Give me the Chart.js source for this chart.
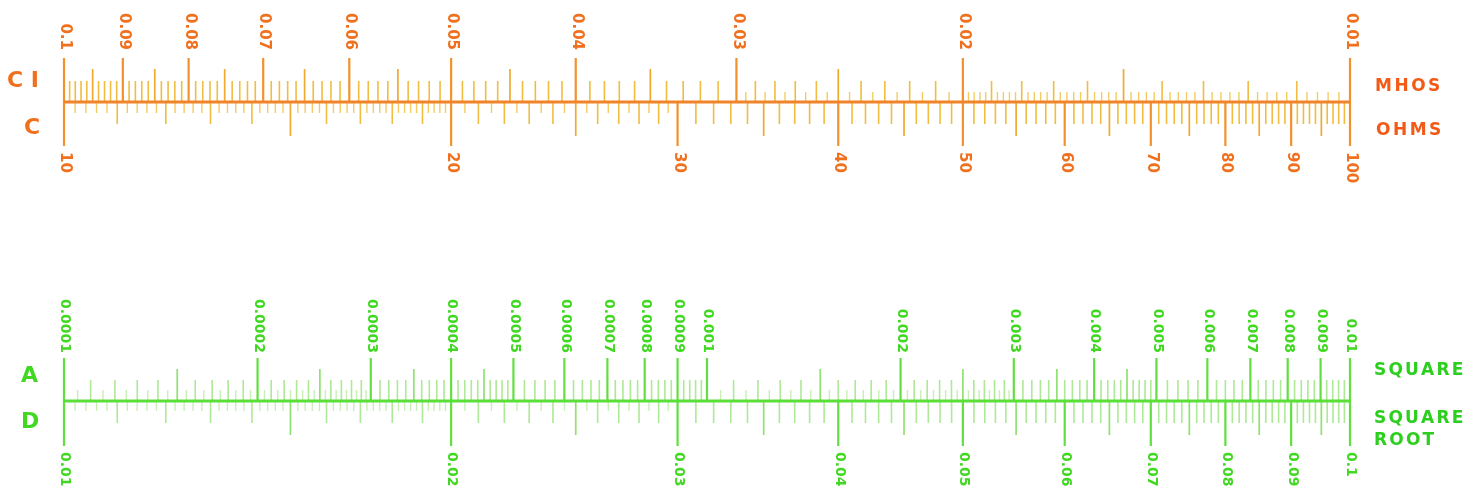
<!DOCTYPE html>
<html><head><meta charset="utf-8">
<script src="https://cdn.jsdelivr.net/npm/chart.js@4.4.1/dist/chart.umd.min.js"></script>
<style>html,body{margin:0;padding:0;background:#fff;}canvas{display:block;}</style>
</head><body>
<canvas id="c" width="1467" height="498"></canvas>
<script>
// ---------- DATA ----------
// Labelled graduations of each scale
const CI_LABELS = [0.1, 0.09, 0.08, 0.07, 0.06, 0.05, 0.04, 0.03, 0.02, 0.01];
const C_LABELS  = [10, 20, 30, 40, 50, 60, 70, 80, 90, 100];
const A_LABELS  = [0.0001, 0.0002, 0.0003, 0.0004, 0.0005, 0.0006, 0.0007, 0.0008, 0.0009,
                   0.001, 0.002, 0.003, 0.004, 0.005, 0.006, 0.007, 0.008, 0.009, 0.01];
const D_LABELS  = [0.01, 0.02, 0.03, 0.04, 0.05, 0.06, 0.07, 0.08, 0.09, 0.1];
// Graduation ranges: [from, to, short step, medium step, long step]
const CI_GRAD = [[0.03, 0.1, null, 0.001, 0.005], [0.02, 0.03, 0.0005, 0.001, 0.005], [0.01, 0.02, 0.0002, 0.001, 0.005]];
const C_GRAD  = [[10, 20, 0.2, 1, 5], [20, 30, 0.5, 1, 5], [30, 100, null, 1, 5]];
const A_GRAD  = [[0.0001, 0.0003, 0.000005, 0.00001, 0.00005], [0.0003, 0.0005, null, 0.00001, 0.00005],
                 [0.0005, 0.001, null, 0.00002, null], [0.001, 0.003, 0.00005, 0.0001, 0.0005],
                 [0.003, 0.005, null, 0.0001, 0.0005], [0.005, 0.01, null, 0.0002, null]];
const D_GRAD  = [[0.01, 0.02, 0.0002, 0.001, 0.005], [0.02, 0.03, 0.0005, 0.001, 0.005], [0.03, 0.1, null, 0.001, 0.005]];
// Side captions
const TOP_LEFT = ['C I', 'C'];
const TOP_RIGHT = ['MHOS', 'OHMS'];
const BOT_LEFT = ['A', 'D'];
const BOT_RIGHT = ['SQUARE', 'SQUARE', 'ROOT'];

// ---------- STYLE ----------
const OR = {rule: '#f0842a', major: '#f2922c', long: '#f0aa30', medium: '#f1bd40', short: '#f4cc62', text: '#f0701e', cap: '#f25a16'};
const GR = {rule: '#5ade38', major: '#62df40', long: '#8fe270', medium: '#ade996', short: '#c8f0b6', text: '#40d820', cap: '#2ccf1e'};
const LEN = {CI: [10, 21, 33, 44], C: [-11, -22, -34, -44], A: [11, 21, 32, 43], D: [-10, -22, -34, -45]};

function graduate(ranges, majors) {
  const out = {short: [], medium: [], long: []};
  const isMult = (v, s) => s ? Math.abs(v / s - Math.round(v / s)) < 1e-6 : false;
  const isMajor = v => majors.some(m => Math.abs(m - v) / m < 1e-7);
  ranges.forEach(([from, to, sS, mS, lS]) => {
    const step = sS || mS;
    const n = Math.round((to - from) / step);
    for (let i = 1; i < n; i++) {
      const v = from + i * step;
      if (isMajor(v)) continue;
      if (isMult(v, lS)) out.long.push(v);
      else if (isMult(v, mS)) out.medium.push(v);
      else out.short.push(v);
    }
  });
  return out;
}
function tickData(values, len) {
  const d = [];
  values.forEach(v => d.push({x: v, y: 0}, {x: v, y: len}, {x: v, y: null}));
  return d;
}
function scaleSets(grad, labels, lens, col, xId, yId) {
  const g = graduate(grad, labels);
  const mk = (vals, len, color, w) => ({data: tickData(vals, len), borderColor: color, borderWidth: w,
    xAxisID: xId, yAxisID: yId, pointRadius: 0, spanGaps: false, clip: false, borderCapStyle: 'butt'});
  return [mk(labels, lens[3], col.major, 2.2), mk(g.long, lens[2], col.long, 1.7),
          mk(g.medium, lens[1], col.medium, 1.6), mk(g.short, lens[0], col.short, 1.4)];
}
const datasets = [
  {data: [{x: 10, y: 0}, {x: 100, y: 0}], borderColor: OR.rule, borderWidth: 3.2, xAxisID: 'xC', yAxisID: 'yO', pointRadius: 0, clip: false},
  {data: [{x: 0.01, y: 0}, {x: 0.1, y: 0}], borderColor: GR.rule, borderWidth: 3, xAxisID: 'xD', yAxisID: 'yG', pointRadius: 0, clip: false},
  ...scaleSets(CI_GRAD, CI_LABELS, LEN.CI, OR, 'xCI', 'yO'),
  ...scaleSets(C_GRAD, C_LABELS, LEN.C, OR, 'xC', 'yO'),
  ...scaleSets(A_GRAD, A_LABELS, LEN.A, GR, 'xA', 'yG'),
  ...scaleSets(D_GRAD, D_LABELS, LEN.D, GR, 'xD', 'yG'),
];

function vText(ctx, text, x, y, align) {
  ctx.save(); ctx.translate(x, y); ctx.rotate(Math.PI / 2);
  ctx.textAlign = align; ctx.textBaseline = 'middle';
  ctx.fillText(text, 0, 0); ctx.restore();
}
function hText(ctx, text, x, y, spacing) {
  ctx.textAlign = 'left'; ctx.textBaseline = 'alphabetic';
  let cx = x;
  for (const ch of text) { ctx.fillText(ch, cx, y); cx += ctx.measureText(ch).width + spacing; }
}
const fmt = v => String(v);

const textPlugin = {
  id: 'slideText',
  afterDatasetsDraw(chart) {
    const ctx = chart.ctx, s = chart.scales;
    ctx.save();
    ctx.fillStyle = OR.text; ctx.font = 'bold 15px "DejaVu Sans"';
    CI_LABELS.forEach(v => vText(ctx, fmt(v), s.xCI.getPixelForValue(v) + 1, s.yO.getPixelForValue(52), 'right'));
    C_LABELS.forEach(v => vText(ctx, fmt(v), s.xC.getPixelForValue(v) + 1, s.yO.getPixelForValue(-50), 'left'));
    ctx.fillStyle = GR.text; ctx.font = 'bold 14px "DejaVu Sans"';
    A_LABELS.forEach(v => vText(ctx, fmt(v), s.xA.getPixelForValue(v) + 1, s.yG.getPixelForValue(48), 'right'));
    D_LABELS.forEach(v => vText(ctx, fmt(v), s.xD.getPixelForValue(v) + 1, s.yG.getPixelForValue(-51), 'left'));
    // side captions
    ctx.font = 'bold 22px "DejaVu Sans"';
    ctx.fillStyle = OR.text;
    hText(ctx, TOP_LEFT[0], 7, 87, 0);
    hText(ctx, TOP_LEFT[1], 24, 134, 0);
    ctx.fillStyle = GR.text;
    hText(ctx, BOT_LEFT[0], 21, 382, 0);
    hText(ctx, BOT_LEFT[1], 21, 428, 0);
    ctx.font = 'bold 17px "DejaVu Sans"';
    ctx.fillStyle = OR.cap;
    hText(ctx, TOP_RIGHT[0], 1375, 91, 2.5);
    hText(ctx, TOP_RIGHT[1], 1376, 135, 2.5);
    ctx.fillStyle = GR.cap;
    hText(ctx, BOT_RIGHT[0], 1374, 375, 2.2);
    hText(ctx, BOT_RIGHT[1], 1374, 423, 2.2);
    hText(ctx, BOT_RIGHT[2], 1374, 445, 2.2);
    ctx.restore();
  }
};

new Chart(document.getElementById('c'), {
  type: 'line',
  data: {datasets},
  options: {
    responsive: false, animation: false, devicePixelRatio: 1, events: [],
    layout: {padding: {left: 64, right: 117, top: 0, bottom: 0}},
    plugins: {legend: {display: false}, tooltip: {enabled: false}},
    elements: {point: {radius: 0}, line: {tension: 0}},
    scales: {
      xC:  {type: 'logarithmic', min: 10, max: 100, display: false},
      xCI: {type: 'logarithmic', min: 0.01, max: 0.1, reverse: true, display: false},
      xA:  {type: 'logarithmic', min: 0.0001, max: 0.01, display: false},
      xD:  {type: 'logarithmic', min: 0.01, max: 0.1, display: false},
      yO:  {type: 'linear', min: -396, max: 102, display: false},
      yG:  {type: 'linear', min: -97, max: 401, display: false}
    }
  },
  plugins: [textPlugin]
});
</script>
</body></html>
